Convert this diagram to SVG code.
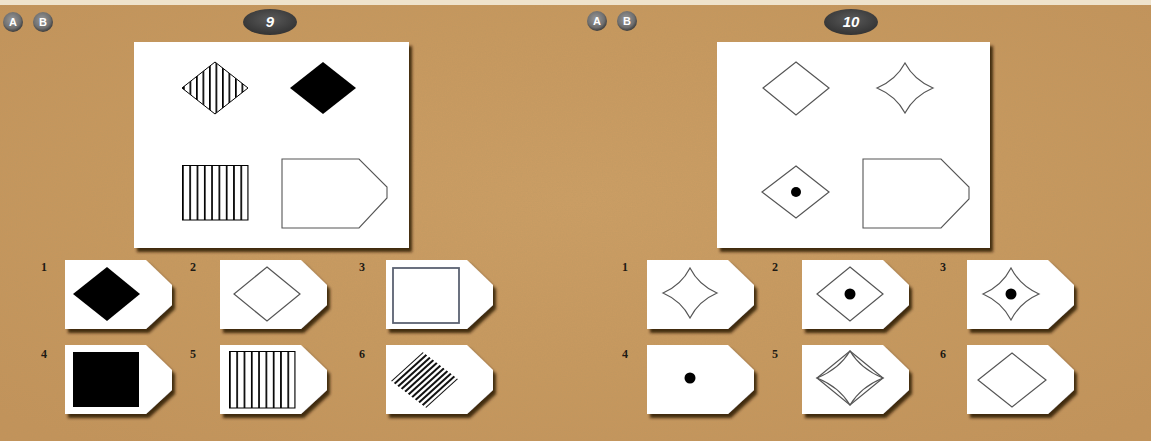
<svg xmlns="http://www.w3.org/2000/svg" width="1151" height="441" viewBox="0 0 1151 441">
<style>
.card{fill:#fff}
.lbl{font-family:"Liberation Serif",serif;font-weight:bold;font-size:12px;fill:#1e1a14}
.thin{fill:none;stroke:#555;stroke-width:1.2}
.blk{fill:#000}
.btn{font-family:"Liberation Sans",Arial,sans-serif;font-weight:bold;font-size:11px;fill:#fff;text-anchor:middle}
.badge{font-family:"Liberation Sans",Arial,sans-serif;font-weight:bold;font-style:italic;font-size:15px;fill:#fff;text-anchor:middle}
.ds line{stroke:#111;stroke-width:2}
</style>
<defs>
<filter id="sh" x="-10%" y="-10%" width="130%" height="140%">
<feDropShadow dx="3" dy="4" stdDeviation="1.8" flood-color="#2a1806" flood-opacity="0.85"/>
</filter>
<filter id="noise" x="0" y="0" width="100%" height="100%">
<feTurbulence type="fractalNoise" baseFrequency="0.8" numOctaves="2" seed="3"/>
<feColorMatrix type="matrix" values="0 0 0 0 0.45  0 0 0 0 0.3  0 0 0 0 0.12  0 0 0 0.35 -0.05"/>
</filter>
<radialGradient id="bg" cx="50%" cy="45%" r="70%">
<stop offset="0" stop-color="#cc9e64"/>
<stop offset="1" stop-color="#c3935a"/>
</radialGradient>
<radialGradient id="btng" cx="45%" cy="40%" r="60%">
<stop offset="0" stop-color="#9a9a9a"/>
<stop offset="0.7" stop-color="#6f6f6f"/>
<stop offset="1" stop-color="#3c3c3c"/>
</radialGradient>
<radialGradient id="badg" cx="50%" cy="40%" r="60%">
<stop offset="0" stop-color="#5a5a5a"/>
<stop offset="1" stop-color="#333"/>
</radialGradient>
<pattern id="vs" patternUnits="userSpaceOnUse" width="7.3" height="10" x="182">
<rect x="0" y="0" width="1.7" height="10" fill="#000"/>
</pattern>
<pattern id="vs2" patternUnits="userSpaceOnUse" width="7.3" height="10" x="229">
<rect x="0" y="0" width="1.7" height="10" fill="#000"/>
</pattern>
<pattern id="vs3" patternUnits="userSpaceOnUse" width="6.5" height="10" x="183">
<rect x="0" y="0" width="1.7" height="10" fill="#000"/>
</pattern>
<clipPath id="rhc"><polygon points="423,352 458,379 426,408 391,381"/></clipPath>
<path id="tag" d="M0,0 L81,0 L107,25 L107,45 L81,69 L0,69 Z"/>
</defs>

<rect x="0" y="0" width="1151" height="441" fill="url(#bg)"/>
<rect x="0" y="0" width="1151" height="441" filter="url(#noise)"/>
<rect x="0" y="0" width="1151" height="5" fill="#efe3cc"/>

<!-- header buttons -->
<g id="btnA-left"><circle cx="13" cy="22" r="10" fill="url(#btng)"/><text class="btn" x="13" y="26">A</text></g>
<g id="btnB-left"><circle cx="43" cy="22" r="10" fill="url(#btng)"/><text class="btn" x="43" y="26">B</text></g>
<g id="badge-9"><ellipse cx="270" cy="22" rx="27" ry="13" fill="url(#badg)"/><text class="badge" x="270" y="27">9</text></g>
<g id="btnA-right"><circle cx="597" cy="21" r="10" fill="url(#btng)"/><text class="btn" x="597" y="25">A</text></g>
<g id="btnB-right"><circle cx="627" cy="21" r="10" fill="url(#btng)"/><text class="btn" x="627" y="25">B</text></g>
<g id="badge-10"><ellipse cx="851" cy="22" rx="27" ry="13" fill="url(#badg)"/><text class="badge" x="851" y="27">10</text></g>

<!-- puzzle 9 panel -->
<g id="panel9">
<rect x="134" y="42" width="275" height="206" fill="#fff" filter="url(#sh)"/>
<polygon points="215,62 248,88 215,114 182,88" fill="url(#vs3)"/>
<polygon points="215,62 248,88 215,114 182,88" fill="none" stroke="#000" stroke-width="1"/>
<polygon class="blk" points="323,62 356,88 323,114 290,88"/>
<rect x="182" y="165" width="66" height="55" fill="url(#vs)"/>
<rect x="182.5" y="165.5" width="65.5" height="54.5" fill="none" stroke="#000" stroke-width="1"/>
<path d="M282,159 L359,159 L387,187 L387,198 L359,228 L282,228 Z" fill="none" stroke="#555" stroke-width="1.1"/>
</g>

<!-- puzzle 10 panel -->
<g id="panel10">
<rect x="717" y="42" width="273" height="206" fill="#fff" filter="url(#sh)"/>
<polygon class="thin" points="796,62 829,88 796,115 763,88"/>
<path class="thin" d="M905,63 Q914,80 933,88 Q914,96 905,113 Q896,96 877,88 Q896,80 905,63Z"/>
<polygon class="thin" points="796,166 829,192 796,218 762,192"/>
<circle cx="796" cy="192" r="5" fill="#000"/>
<path d="M863,159 L941,159 L969,187 L969,199 L941,228 L863,228 Z" fill="none" stroke="#555" stroke-width="1.1"/>
</g>

<!-- puzzle 9 options -->
<g id="opt9-1"><text class="lbl" x="41" y="271">1</text><use href="#tag" x="65" y="260" class="card" filter="url(#sh)"/><polygon class="blk" points="107,267 140,294 107,321 73,294"/></g>
<g id="opt9-2"><text class="lbl" x="190" y="271">2</text><use href="#tag" x="220" y="260" class="card" filter="url(#sh)"/><polygon class="thin" points="267,267 300,294 267,321 234,294"/></g>
<g id="opt9-3"><text class="lbl" x="359" y="271">3</text><use href="#tag" x="386" y="260" class="card" filter="url(#sh)"/><rect x="393" y="268" width="66" height="55" fill="none" stroke="#5b6272" stroke-width="1.8"/></g>
<g id="opt9-4"><text class="lbl" x="41" y="358">4</text><use href="#tag" x="65" y="345" class="card" filter="url(#sh)"/><rect class="blk" x="73" y="352" width="66" height="55"/></g>
<g id="opt9-5"><text class="lbl" x="190" y="358">5</text><use href="#tag" x="220" y="345" class="card" filter="url(#sh)"/><rect x="229" y="351" width="66" height="57" fill="url(#vs2)"/><rect x="229.5" y="351.5" width="65.5" height="56.5" fill="none" stroke="#000" stroke-width="1"/></g>
<g id="opt9-6"><text class="lbl" x="359" y="358">6</text><use href="#tag" x="386" y="345" class="card" filter="url(#sh)"/>
<g class="ds" clip-path="url(#rhc)">
<line x1="391" y1="381" x2="423" y2="352"/>
<line x1="394.5" y1="383.7" x2="426.5" y2="354.7"/>
<line x1="398" y1="386.4" x2="430" y2="357.4"/>
<line x1="401.5" y1="389.1" x2="433.5" y2="360.1"/>
<line x1="405" y1="391.8" x2="437" y2="362.8"/>
<line x1="408.5" y1="394.5" x2="440.5" y2="365.5"/>
<line x1="412" y1="397.2" x2="444" y2="368.2"/>
<line x1="415.5" y1="399.9" x2="447.5" y2="370.9"/>
<line x1="419" y1="402.6" x2="451" y2="373.6"/>
<line x1="422.5" y1="405.3" x2="454.5" y2="376.3"/>
<line x1="426" y1="408" x2="458" y2="379"/>
</g></g>

<!-- puzzle 10 options -->
<g id="opt10-1"><text class="lbl" x="622" y="271">1</text><use href="#tag" x="647" y="260" class="card" filter="url(#sh)"/><path class="thin" d="M690,268 Q698.6,285 717,293 Q698.6,301 690,318 Q681.4,301 663,293 Q681.4,285 690,268Z"/></g>
<g id="opt10-2"><text class="lbl" x="772" y="271">2</text><use href="#tag" x="802" y="260" class="card" filter="url(#sh)"/><polygon class="thin" points="850,267 883,294 850,321 817,294"/><circle cx="850" cy="294" r="5.5" fill="#000"/></g>
<g id="opt10-3"><text class="lbl" x="940" y="271">3</text><use href="#tag" x="967" y="260" class="card" filter="url(#sh)"/><path class="thin" d="M1011,268 Q1020,285.7 1039,294 Q1020,302.3 1011,320 Q1002,302.3 983,294 Q1002,285.7 1011,268Z"/><circle cx="1011" cy="294" r="5.5" fill="#000"/></g>
<g id="opt10-4"><text class="lbl" x="622" y="358">4</text><use href="#tag" x="647" y="345" class="card" filter="url(#sh)"/><circle cx="690" cy="378" r="5.5" fill="#000"/></g>
<g id="opt10-5"><text class="lbl" x="772" y="358">5</text><use href="#tag" x="802" y="345" class="card" filter="url(#sh)"/><polygon class="thin" points="850,351 883,378 850,405 817,378"/><path class="thin" d="M850,351 Q860.9,369.1 883,378 Q860.9,386.9 850,405 Q839.1,386.9 817,378 Q839.1,369.1 850,351Z"/></g>
<g id="opt10-6"><text class="lbl" x="940" y="358">6</text><use href="#tag" x="967" y="345" class="card" filter="url(#sh)"/><polygon class="thin" points="1012,353 1046,380 1012,407 978,380"/></g>

<g id="connectors"/>
</svg>
